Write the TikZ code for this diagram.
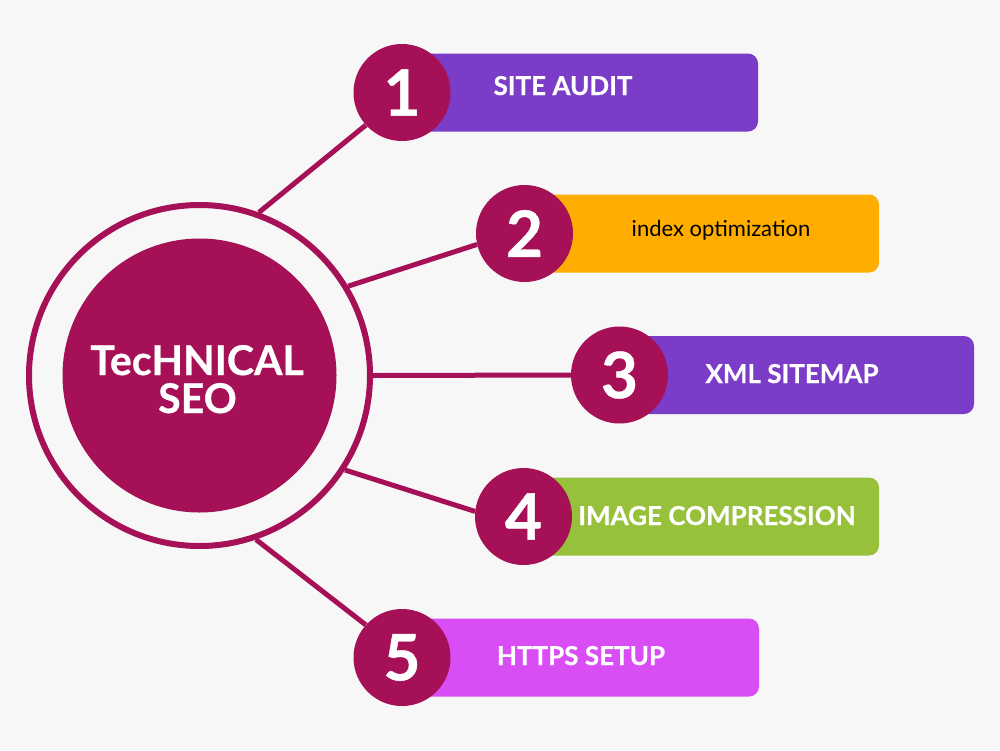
\documentclass[tikz,border=0pt]{standalone}
\usepackage{fontspec}
\setmainfont{Lato}
\newfontface\heavyfont{Lato Bold}[FakeBold=0.6]
\usepackage{xcolor}
\usetikzlibrary{positioning, calc}
\definecolor{seomagenta}{RGB}{165, 16, 86}
\definecolor{barpurple}{RGB}{123, 60, 200}
\definecolor{barorange}{RGB}{255, 173, 0}
\definecolor{bargreen}{RGB}{151, 193, 58}
\definecolor{barpink}{RGB}{217, 77, 245}
\definecolor{pagegray}{RGB}{247, 247, 247}
\pgfdeclarelayer{pagebg}
\pgfdeclarelayer{spokes}
\pgfsetlayers{pagebg,spokes,main}
\tikzset{
  numdisc/.style={circle, fill=seomagenta, minimum size=97pt, inner sep=0pt,
    text=white, font=\fontsize{64}{64}\selectfont\heavyfont},
  spoke/.style={seomagenta, line width=5pt},
  bartext/.style={anchor=base, text=white, font=\fontsize{26}{26}\selectfont\heavyfont},
  hubtext/.style={anchor=base, text=white, font=\fontsize{41}{41}\selectfont\heavyfont},
}
% #1 name, #2 centre x, #3 centre y, #4 right end of bar, #5 colour, #6 number
\newcommand{\stepitem}[6]{%
  \fill[#5, rounded corners=10pt] (#2,#3-39) rectangle (#4,#3+39);
  \node[numdisc] (#1) at (#2,#3) {#6};
}

\begin{document}
\begin{tikzpicture}[x=1pt, y=-1pt]
    \begin{pgfonlayer}{pagebg}
      \fill[pagegray] (0,0) rectangle (1000,750);
    \end{pgfonlayer}
    \useasboundingbox (0,0) rectangle (1000,750);
    % Hub
    \node[circle, draw=seomagenta, line width=6pt, minimum size=341pt] (hub) at (199.5,375.5) {};
    \node[circle, fill=seomagenta, minimum size=274pt] (core) at (hub) {};
    \node[hubtext] (title) at (197,375) {TecHNICAL};
    \node[hubtext] (subtitle) at (197.5,413) {SEO};
    % Steps
    \stepitem{n1}{402}{92.5}{758}{barpurple}{1}
    \stepitem{n2}{524.5}{233.5}{879}{barorange}{2}
    \stepitem{n3}{619.5}{375}{974}{barpurple}{3}
    \stepitem{n4}{523.5}{516.5}{879}{bargreen}{4}
    \stepitem{n5}{402}{657.5}{759}{barpink}{5}
    % Labels
    \node[bartext] (l1) at (563,95) {SITE AUDIT};
    \node[anchor=base, font=\fontsize{22}{22}\selectfont] (l2) at (721,236) {index optimization};
    \node[bartext] (l3) at (792,383) {XML SITEMAP};
    \node[bartext] (l4) at (717,525) {IMAGE COMPRESSION};
    \node[bartext] (l5) at (581,665) {HTTPS SETUP};
    % Spokes
    \begin{pgfonlayer}{spokes}
      \draw[spoke] (hub.70) -- (n1.222);
      \draw[spoke] (hub.31) -- (n2.193);
      \draw[spoke] (hub.0) -- (n3.180);
      \draw[spoke] (hub.-33) -- (n4.174);
      \draw[spoke] (hub.-71) -- (n5.138);
    \end{pgfonlayer}
\end{tikzpicture}
\end{document}
